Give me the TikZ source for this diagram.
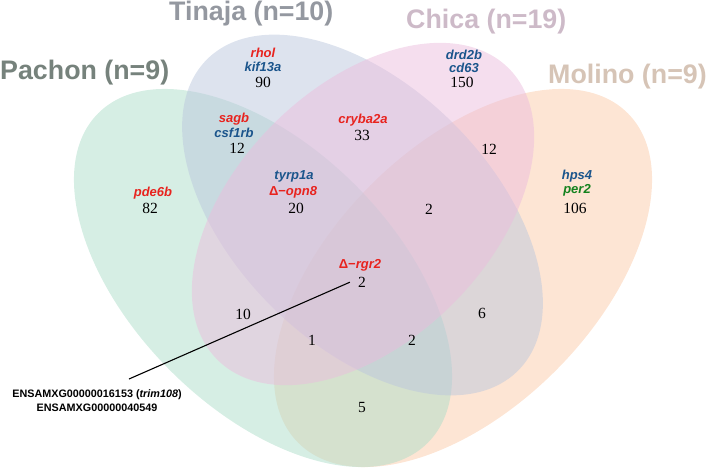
\documentclass[tikz,border=0pt]{standalone}
\usepackage{fontspec}
\setmainfont{Liberation Serif}
\setsansfont{Liberation Sans}
\usetikzlibrary{positioning}

\definecolor{pachonfill}{RGB}{173,221,201}
\definecolor{tinajafill}{RGB}{187,199,221}
\definecolor{chicafill}{RGB}{235,189,221}
\definecolor{molinofill}{RGB}{251,203,169}
\definecolor{pachontxt}{RGB}{118,130,124}
\definecolor{tinajatxt}{RGB}{148,152,160}
\definecolor{chicatxt}{RGB}{205,186,200}
\definecolor{molinotxt}{RGB}{214,196,182}
\definecolor{genered}{RGB}{232,35,30}
\definecolor{geneblue}{RGB}{27,85,140}
\definecolor{genegreen}{RGB}{20,130,30}

\begin{document}
\begin{tikzpicture}[x=1pt, y=-1pt,
    lobe/.style={draw=none, fill opacity=0.5},
    setname/.style={anchor=base west, inner sep=0pt, font=\sffamily\bfseries\fontsize{26.8}{28}\selectfont},
    gene/.style={anchor=base, inner sep=0pt, font=\sffamily\bfseries\itshape\fontsize{13}{13}\selectfont},
    tally/.style={anchor=base, inner sep=0pt, font=\fontsize{15.5}{16}\selectfont},
    ensembl/.style={anchor=north, align=center, inner sep=0pt, font=\sffamily\bfseries\fontsize{10.8}{14}\selectfont}
]
\useasboundingbox (0,0) rectangle (708,471);

% Set lobes
\fill[lobe, molinofill, rotate around={45:(463,278)}] (463,278) ellipse [x radius=233pt, y radius=131pt];
\fill[lobe, pachonfill, rotate around={-45:(263,278)}] (263,278) ellipse [x radius=233pt, y radius=131pt];
\fill[lobe, tinajafill, rotate around={-45:(362.5,215)}] (362.5,215) ellipse [x radius=220pt, y radius=129pt];
\fill[lobe, chicafill, rotate around={45:(363,214)}] (363,214) ellipse [x radius=206pt, y radius=127pt];

% Set names
\node[setname, pachontxt] (pachon) at (0,79) {Pachon (n=9)};
\node[setname, tinajatxt] (tinaja) at (169,20) {Tinaja (n=10)};
\node[setname, chicatxt] (chica) at (406,28) {Chica (n=19)};
\node[setname, molinotxt] (molino) at (548,83) {Molino (n=9)};

% Tinaja only
\node[gene, genered] (rhol) at (263,57.7) {rhol};
\node[gene, geneblue] (kif) at (263,71.7) {kif13a};
\node[tally] (nT) at (263,87.3) {90};

% Pachon and Tinaja
\node[gene, genered] (sagb) at (234,122.7) {sagb};
\node[gene, geneblue] (csf) at (234,137.7) {csf1rb};
\node[tally] (nPT) at (237,153.3) {12};

% Pachon only
\node[gene, genered] (pde) at (153,196.7) {pde6b};
\node[tally] (nP) at (150,213.3) {82};

% Pachon, Tinaja and Chica
\node[gene, geneblue] (tyrp) at (294,179.7) {tyrp1a};
\node[gene, genered] (opn) at (293,195.7) {\textup{Δ−}opn8};
\node[tally] (nPTC) at (296,213.3) {20};

% Tinaja and Chica
\node[gene, genered] (cryba) at (363,123.7) {cryba2a};
\node[tally] (nTC) at (362,140.3) {33};

% Chica only
\node[gene, geneblue] (drd) at (464,59.7) {drd2b};
\node[gene, geneblue] (cd) at (464,72.7) {cd63};
\node[tally] (nC) at (462,87.3) {150};

% Molino only
\node[gene, geneblue] (hps) at (577,179.7) {hps4};
\node[gene, genegreen] (per) at (577,193.7) {per2};
\node[tally] (nM) at (575,213.3) {106};

% remaining overlaps
\node[tally] (nCM) at (489,154.3) {12};
\node[tally] (nTCM) at (429,214.3) {2};
\node[gene, genered] (rgr) at (360,268.7) {\textup{Δ−}rgr2};
\node[tally] (allfour) at (362,287.3) {2};
\node[tally] (nPC) at (243,319.3) {10};
\node[tally] (nTM) at (482,318.3) {6};
\node[tally] (nPCM) at (312,345.3) {1};
\node[tally] (nPTM) at (412,345.3) {2};
\node[tally] (nPM) at (362,412.3) {5};

% Callout
\node[ensembl] (ens) at (97,389) {ENSAMXG00000016153 (\textit{trim108})\\ENSAMXG00000040549};
\coordinate (tip) at (129,379);
\draw[line width=1.1pt] (tip) -- ([xshift=-8pt]allfour.west);

\end{tikzpicture}
\end{document}
